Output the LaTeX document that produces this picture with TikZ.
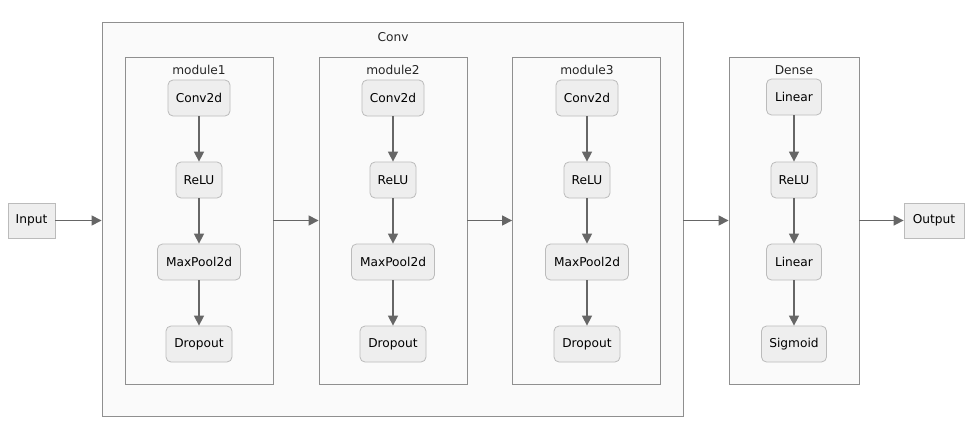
\documentclass[tikz,border=0pt]{standalone}
\usepackage{fontspec}
\setmainfont{DejaVu Sans}
\usetikzlibrary{arrows.meta}
\definecolor{nodefill}{HTML}{EEEEEE}
\definecolor{nodeline}{HTML}{BBBBBB}
\definecolor{clusterfill}{HTML}{FAFAFA}
\definecolor{clusterline}{HTML}{8F8F8F}
\definecolor{edgecol}{HTML}{666666}
\begin{document}
\begin{tikzpicture}[x=1pt,y=-1pt,
  font=\fontsize{12.2}{14}\selectfont,
  layer/.style={draw=nodeline,fill=nodefill,rounded corners=5pt,inner sep=0pt,minimum height=36pt,line width=0.8pt,text=black},
  io/.style={draw=nodeline,fill=nodefill,inner sep=0pt,minimum height=35pt,line width=0.8pt},
  cluster/.style={draw=clusterline,fill=clusterfill,line width=0.9pt},
  edge/.style={draw=edgecol,line width=1.5pt,-{Triangle[length=10pt,width=10pt]}},
  clabel/.style={text=black!85}]
\useasboundingbox (0,0) rectangle (972,442);
\fill[white] (0,0) rectangle (972,442);
% clusters
\node[cluster,minimum width=581pt,minimum height=394pt,inner sep=0pt] (conv) at (392.5,219) {};
\node[clabel] (convl) at (393,37) {Conv};
\node[cluster,minimum width=148pt,minimum height=327pt,inner sep=0pt] (m1) at (199,220.5) {};
\node[clabel] (m1l) at (199,70) {module1};
\node[cluster,minimum width=148pt,minimum height=327pt,inner sep=0pt] (m2) at (393,220.5) {};
\node[clabel] (m2l) at (393,70) {module2};
\node[cluster,minimum width=148pt,minimum height=327pt,inner sep=0pt] (m3) at (586.5,220.5) {};
\node[clabel] (m3l) at (587,70) {module3};
\node[cluster,minimum width=130pt,minimum height=327pt,inner sep=0pt] (dense) at (794,220.5) {};
\node[clabel] (densel) at (794,70) {Dense};
% io
\node[io,minimum width=47pt] (input) at (31.5,220.5) {Input};
\node[io,minimum width=60pt] (output) at (934,220.5) {Output};
% module nodes
\foreach \m/\x in {1/199,2/393,3/587}{
  \node[layer,minimum width=62pt] (c\m) at (\x,98) {Conv2d};
  \node[layer,minimum width=46pt] (r\m) at (\x,180) {ReLU};
  \node[layer,minimum width=83pt] (p\m) at (\x,262) {MaxPool2d};
  \node[layer,minimum width=66pt] (d\m) at (\x,344) {Dropout};
  \draw[edge] (c\m) -- (r\m);
  \draw[edge] (r\m) -- (p\m);
  \draw[edge] (p\m) -- (d\m);
}
\node[layer,minimum width=55pt] (l1) at (794,97) {Linear};
\node[layer,minimum width=46pt] (dr) at (794,180) {ReLU};
\node[layer,minimum width=55pt] (l2) at (794,262) {Linear};
\node[layer,minimum width=65pt] (sg) at (794,344) {Sigmoid};
\draw[edge] (l1) -- (dr);
\draw[edge] (dr) -- (l2);
\draw[edge] (l2) -- (sg);
% cluster edges
\draw[edge] (input.east) -- (conv.west |- input.east);
\draw[edge] (m1.east |- input.east) -- (m2.west |- input.east);
\draw[edge] (m2.east |- input.east) -- (m3.west |- input.east);
\draw[edge] (conv.east |- input.east) -- (dense.west |- input.east);
\draw[edge] (dense.east |- output.west) -- (output.west);
\end{tikzpicture}
\end{document}
